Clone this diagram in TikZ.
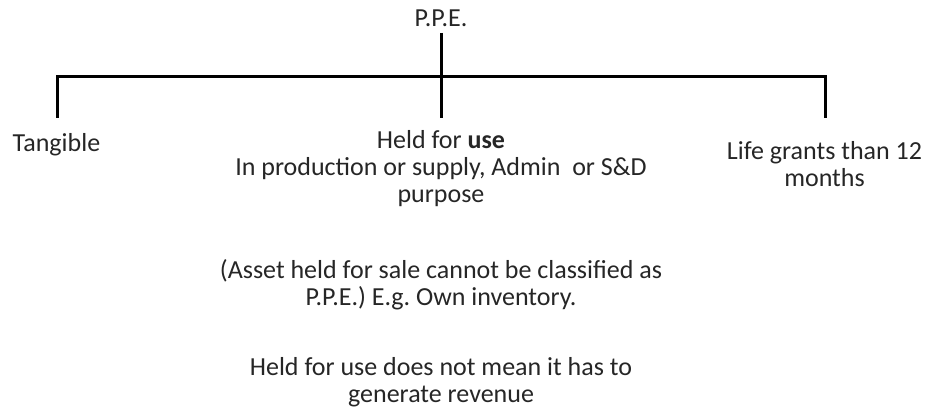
\documentclass[tikz,border=0pt]{standalone}
\usepackage{fontspec}
\setmainfont{Carlito}
\frenchspacing
\begin{document}
\begin{tikzpicture}[x=1pt,y=-1pt,
  conn/.style={line width=3pt, draw=black, line join=miter},
  lbl/.style={anchor=base, align=center, inner sep=0pt, text=black!85,
              font=\fontsize{26}{27}\selectfont}]
\useasboundingbox (0,0) rectangle (928,414);

% root label and the bar that splits into three branches
\node[lbl] (root) at (441,27) {P.P.E.};
\coordinate (rootfoot) at (441,33);
\coordinate (bar) at (441,76.5);
\coordinate (barL) at (57,76.5);
\coordinate (barR) at (825,76.5);
\coordinate (footL) at (57,118);
\coordinate (footM) at (441,118);
\coordinate (footR) at (825,118);

\draw[conn] (rootfoot) -- (bar);
\draw[conn] (footL) -- (barL) -- (barR) -- (footR);
\draw[conn] (bar) -- (footM);

% branch labels (base anchor sits on the last line of each label)
\node[lbl] (tang) at (56.5,152) {Tangible};
\node[lbl] (use) at (441,202) {Held for \textbf{use}\\In production or supply, Admin\ \ or S\&D\\purpose};
\node[lbl] (life) at (824.5,186) {Life grants than 12\\months};

% notes under the middle branch
\node[lbl] (sale) at (441,305) {(Asset held for sale cannot be classified as\\P.P.E.) E.g. Own inventory.};
\node[lbl] (rev) at (441,402) {Held for use does not mean it has to\\generate revenue};
\end{tikzpicture}
\end{document}
